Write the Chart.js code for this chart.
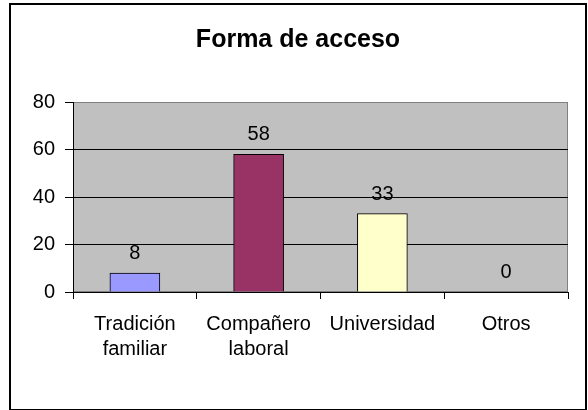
<!DOCTYPE html>
<html>
<head>
<meta charset="utf-8">
<script src="https://cdn.jsdelivr.net/npm/chart.js@4/dist/chart.umd.min.js"></script>
<style>
  body { margin: 0; background: #fff; }
  canvas { display: block; }
</style>
</head>
<body>
<canvas id="myChart" width="588" height="410"></canvas>
<script>
const chartTitle = 'Forma de acceso';
const categories = [['Tradición', 'familiar'], ['Compañero', 'laboral'], 'Universidad', 'Otros'];
const values = [8, 58, 33, 0];
const barColors = ['#9999ff', '#993366', '#ffffcc', '#c0c0c0'];
const yTicks = [0, 20, 40, 60, 80];

const fontFamily = '"Liberation Sans", Arial, sans-serif';

// grey plot area, outer frame and title
const frame = {
    id: 'frame',
    beforeDraw(chart) {
        const c = chart.ctx;
        const a = chart.chartArea;
        c.save();
        c.fillStyle = '#fff';
        c.fillRect(0, 0, chart.width, chart.height);
        c.fillStyle = '#c0c0c0';
        c.fillRect(a.left, a.top, a.right - a.left, a.bottom - a.top);
        c.strokeStyle = '#808080';
        c.lineWidth = 1;
        c.strokeRect(a.left + 0.5, a.top + 0.5, a.right - a.left - 1, a.bottom - a.top - 1);
        c.strokeStyle = '#000';
        c.lineWidth = 2;
        c.strokeRect(10, 4, 576, 406);
        c.fillStyle = '#000';
        c.font = 'bold 25px ' + fontFamily;
        c.textAlign = 'center';
        c.textBaseline = 'alphabetic';
        c.fillText(chartTitle, 298, 47);
        c.restore();
    }
};

// value labels above bars
const valueLabels = {
    id: 'valueLabels',
    afterDatasetsDraw(chart) {
        const c = chart.ctx;
        const meta = chart.getDatasetMeta(0);
        c.save();
        c.fillStyle = '#000';
        c.font = '20px ' + fontFamily;
        c.textAlign = 'center';
        c.textBaseline = 'alphabetic';
        meta.data.forEach((bar, i) => {
            c.fillText(String(values[i]), bar.x, bar.y - 14);
        });
        c.restore();
    }
};

const ctx = document.getElementById('myChart').getContext('2d');
let myChart = new Chart(ctx, {
    type: 'bar',
    data: {
        labels: categories,
        datasets: [
            {
                label: chartTitle,
                data: values,
                backgroundColor: barColors,
                borderColor: '#000',
                borderWidth: 1,
                barThickness: 50
            }
        ]
    },
    options: {
        responsive: false,
        animation: false,
        devicePixelRatio: 1,
        layout: { padding: { top: 102, right: 20, bottom: 0, left: 0 } },
        plugins: {
            legend: { display: false },
            title: { display: false },
            tooltip: { enabled: false }
        },
        scales: {
            x: {
                afterFit: s => { s.height = 118; },
                grid: {
                    offset: true,
                    drawOnChartArea: false,
                    drawTicks: true,
                    tickLength: 7,
                    tickColor: '#000'
                },
                border: { color: '#000', width: 1 },
                ticks: {
                    color: '#000',
                    padding: 13,
                    maxRotation: 0,
                    autoSkip: false,
                    font: { family: fontFamily, size: 20, lineHeight: 1.25 }
                }
            },
            y: {
                min: yTicks[0],
                max: yTicks[yTicks.length - 1],
                afterFit: s => { s.width = 73; },
                afterBuildTicks: s => { s.ticks = yTicks.map(v => ({ value: v })); },
                grid: {
                    color: g => (g.tick && g.tick.value === 80 ? '#808080' : '#000'),
                    tickLength: 8,
                    tickColor: '#000'
                },
                border: { color: '#000', width: 1 },
                ticks: {
                    color: '#000',
                    padding: 10,
                    font: { family: fontFamily, size: 20 }
                }
            }
        }
    },
    plugins: [frame, valueLabels]
});
</script>
</body>
</html>
